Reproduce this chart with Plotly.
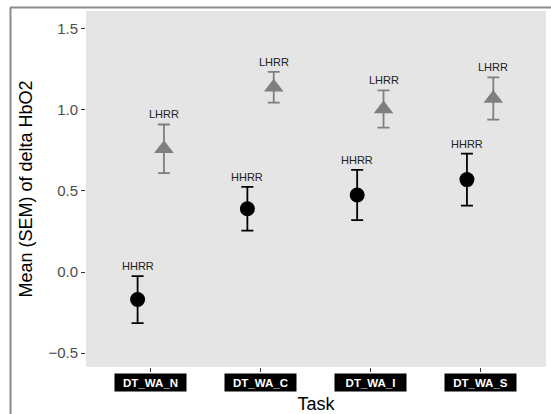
import plotly.graph_objects as go

# Task conditions and group summaries (mean and SEM of delta HbO2)
tasks = ["DT_WA_N", "DT_WA_C", "DT_WA_I", "DT_WA_S"]
hhrr_mean = [-0.17, 0.39, 0.475, 0.57]
hhrr_sem = [0.145, 0.135, 0.155, 0.16]
lhrr_mean = [0.76, 1.14, 1.005, 1.07]
lhrr_sem = [0.15, 0.095, 0.115, 0.13]
y_ticks = [-0.5, 0.0, 0.5, 1.0, 1.5]

dodge = 0.12
pos = list(range(1, len(tasks) + 1))
x_h = [p - dodge for p in pos]
x_l = [p + dodge for p in pos]

FONT = "Liberation Sans, Arial, Helvetica, sans-serif"
GREY = "#7f7f7f"

fig = go.Figure()
fig.add_trace(go.Scatter(
    x=x_h, y=hhrr_mean, mode="markers", name="HHRR",
    marker=dict(symbol="circle", size=15, color="black"),
    error_y=dict(type="data", array=hhrr_sem, color="black", thickness=1.8, width=6),
))
fig.add_trace(go.Scatter(
    x=x_l, y=lhrr_mean, mode="markers", name="LHRR",
    marker=dict(symbol="triangle-up", size=17, color=GREY),
    error_y=dict(type="data", array=lhrr_sem, color=GREY, thickness=1.8, width=6),
))

annotations = []
# group labels above each error bar
for xs, ms, ss, lab in [(x_h, hhrr_mean, hhrr_sem, "HHRR"), (x_l, lhrr_mean, lhrr_sem, "LHRR")]:
    for x, m, s in zip(xs, ms, ss):
        annotations.append(dict(
            x=x, y=m + s, xref="x", yref="y", text=lab, showarrow=False,
            yanchor="middle", yshift=10, font=dict(family=FONT, size=11, color="#222222"),
        ))
# task labels drawn as white text on black boxes under the axis
for p, t in zip(pos, tasks):
    annotations.append(dict(
        x=p, y=-0.017, xref="x", yref="paper", text="<b>" + t + "</b>", showarrow=False,
        yanchor="top", bgcolor="black", width=69, height=15, borderpad=1,
        font=dict(family=FONT, size=11.5, color="white"),
    ))

# frame lines along the top and left of the figure
L, B, W, H = 86, 47, 460, 356
def px_x(v):
    return (v - L) / W
def px_y(v):
    return (414 - B - v) / H

shapes = [
    dict(type="line", xref="paper", yref="paper", x0=px_x(10), x1=px_x(551), y0=px_y(7.5), y1=px_y(7.5),
         line=dict(color="#8c8c8c", width=2)),
    dict(type="line", xref="paper", yref="paper", x0=px_x(10.5), x1=px_x(10.5), y0=px_y(7.5), y1=px_y(414),
         line=dict(color="#8c8c8c", width=2)),
]

fig.update_layout(
    width=551, height=414,
    margin=dict(l=L, r=551 - L - W, t=414 - B - H, b=B, autoexpand=False),
    paper_bgcolor="white", plot_bgcolor="#e5e5e5",
    showlegend=False,
    annotations=annotations, shapes=shapes,
    font=dict(family=FONT),
)
fig.update_xaxes(
    range=[0.41, 4.6], tickvals=pos, ticktext=tasks, showticklabels=False,
    ticks="outside", ticklen=4, tickwidth=1, tickcolor="#333333",
    showgrid=False, zeroline=False, showline=False,
    title=dict(text="Task", font=dict(family=FONT, size=18, color="black"), standoff=26),
    automargin=False,
)
fig.update_yaxes(
    range=[-0.586, 1.61], tickvals=y_ticks, ticktext=["\u22120.5", "0.0", "0.5", "1.0", "1.5"],
    ticks="outside", ticklen=4, tickwidth=1, tickcolor="#333333",
    tickfont=dict(family=FONT, size=15, color="#4d4d4d"),
    showgrid=False, zeroline=False, showline=False,
    title=dict(text="Mean (SEM) of delta HbO2", font=dict(family=FONT, size=18, color="black"), standoff=11),
    automargin=False,
)

fig.write_html("out.html")
